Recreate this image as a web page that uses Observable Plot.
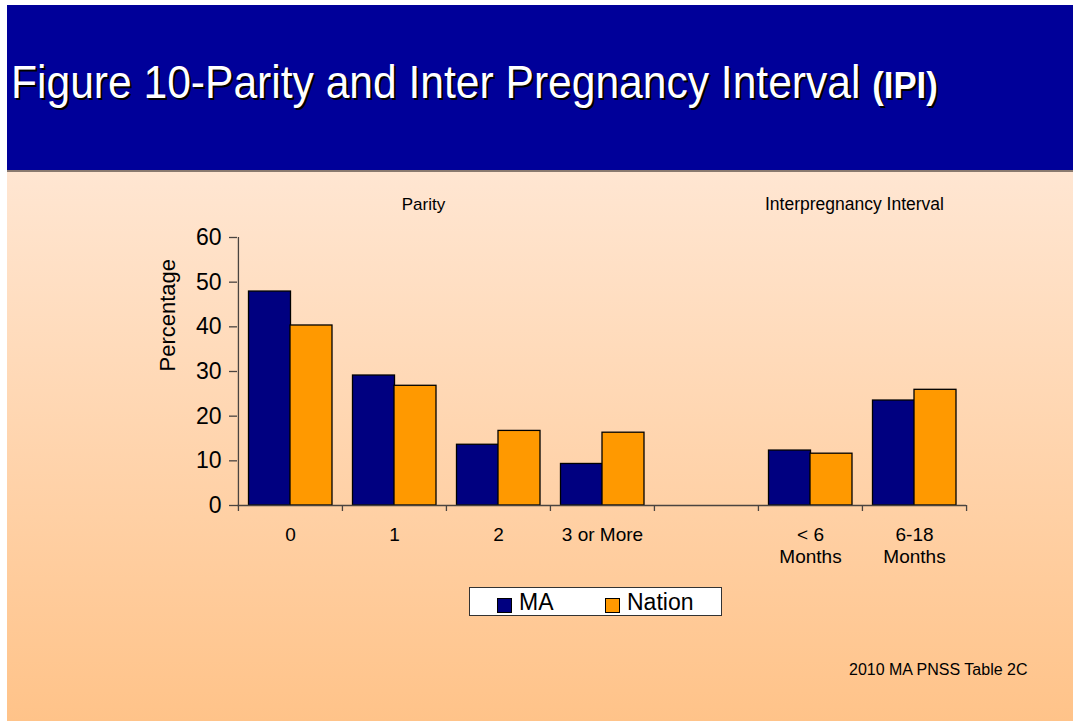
<!DOCTYPE html>
<html>
<head>
<meta charset="utf-8">
<script src="https://cdn.jsdelivr.net/npm/d3@7"></script>
<script src="https://cdn.jsdelivr.net/npm/@observablehq/plot@0.6"></script>
<style>
  html, body { margin: 0; padding: 0; background: #ffffff; }
  body { width: 1073px; height: 721px; position: relative; overflow: hidden; font-family: "Liberation Sans", Arial, sans-serif; }
  #slide { position: absolute; left: 7px; top: 5px; width: 1066px; height: 716px; }
  #band { position: absolute; left: 0; top: 0; width: 1066px; height: 165px; background: #000099; }
  #sep { position: absolute; left: 0; top: 165px; width: 1066px; height: 2px; background: #8a7a70; }
  #body { position: absolute; left: 0; top: 167px; width: 1066px; height: 549px; background: linear-gradient(#FFE6D2, #FFC389); }
  #title { position: absolute; left: 11px; top: 63px; font-size: 43px; line-height: 43px; color: #fff; white-space: nowrap; text-shadow: 2px 2px 0 #000; transform-origin: 0 100%; transform: scale(0.99, 1.08); }
  #title b { font-size: 35px; }
  #chart { position: absolute; left: 0; top: 0; }
  #legend { position: absolute; left: 469px; top: 587px; width: 251px; height: 27px; background: #fff; border: 1px solid #333; font-size: 23px; line-height: 29px; }
  .li { position: absolute; top: 0; }
  .sw { position: absolute; top: 10px; width: 13px; height: 13px; border: 1px solid #000; }
  #foot { position: absolute; left: 849px; top: 661px; font-size: 16px; color: #000; white-space: nowrap; }
</style>
</head>
<body>
<div id="slide">
  <div id="band"></div>
  <div id="sep"></div>
  <div id="body"></div>
</div>
<div id="title">Figure 10-Parity and Inter Pregnancy Interval <b>(IPI)</b></div>
<div id="chart"></div>
<div id="legend"></div>
<div id="foot">2010 MA PNSS Table 2C</div>
<script>
// ---- data ----
const categories = ["0", "1", "2", "3 or More", " ", "< 6\nMonths", "6-18\nMonths"];
const barCategories = ["0", "1", "2", "3 or More", "< 6\nMonths", "6-18\nMonths"];
const maValues = [47.9, 29.1, 13.6, 9.3, 12.3, 23.5];
const nationValues = [40.3, 26.8, 16.7, 16.3, 11.6, 25.9];
const seriesNames = ["MA", "Nation"];
const seriesColors = ["#000080", "#FF9900"];
const yTicks = [0, 10, 20, 30, 40, 50, 60];
const yLabel = "Percentage";
const groupLabels = ["Parity", "Interpregnancy Interval"];
const groupAnchors = ["1", "< 6\nMonths"];

const rows = [];
barCategories.forEach((c, i) => {
  rows.push({cat: c, series: "MA", value: maValues[i]});
  rows.push({cat: c, series: "Nation", value: nationValues[i]});
});

const W = 1073, H = 721;
const mL = 237, mR = 107, mT = 237, mB = 216;
const bw = (W - mL - mR) / categories.length;
const axisColor = "#4a4440";

const chart = Plot.plot({
  width: W, height: H,
  marginLeft: mL, marginRight: mR, marginTop: mT, marginBottom: mB,
  style: {background: "transparent", fontFamily: "'Liberation Sans', Arial, sans-serif", overflow: "visible"},
  x: {type: "band", domain: categories, padding: 0},
  y: {domain: [0, 60]},
  color: {domain: seriesNames, range: seriesColors},
  marks: [
    Plot.barY(rows.filter(d => d.series === "MA"), {x: "cat", y: "value", fill: "series", stroke: "#000", strokeWidth: 1.3, insetLeft: 10.5, insetRight: 51.5}),
    Plot.barY(rows.filter(d => d.series === "Nation"), {x: "cat", y: "value", fill: "series", stroke: "#000", strokeWidth: 1.3, insetLeft: 52, insetRight: 10}),
    Plot.ruleY([0], {stroke: axisColor, strokeWidth: 1.3}),
    Plot.ruleX([categories[0]], {x: d => d, dx: -bw / 2, y1: () => 0, y2: () => 60, stroke: axisColor, strokeWidth: 1.3}),
    Plot.ruleX(categories, {x: d => d, dx: -bw / 2, y1: () => 0, y2: () => 0, insetBottom: -6, stroke: axisColor, strokeWidth: 1.3}),
    Plot.ruleX([categories[categories.length - 1]], {x: d => d, dx: bw / 2, y1: () => 0, y2: () => 0, insetBottom: -6, stroke: axisColor, strokeWidth: 1.3}),
    Plot.axisY({ticks: yTicks, tickSize: 8, tickPadding: 8, fontSize: 23, label: null, stroke: axisColor, fill: "#000", strokeWidth: 1.3}),
    Plot.axisX({tickSize: 0, tickPadding: 20, fontSize: 19, lineHeight: 1.15, label: null, fill: "#000"}),
    Plot.text([yLabel], {frameAnchor: "left", dx: -70, rotate: -90, fontSize: 22, fill: "#000", text: d => d}),
    Plot.text([groupLabels[0]], {x: () => groupAnchors[0], dx: 29, frameAnchor: "top", dy: -40, fontSize: 17, fill: "#000", text: d => d}),
    Plot.text([groupLabels[1]], {x: () => groupAnchors[1], dx: 44, frameAnchor: "top", dy: -40, fontSize: 17.5, fill: "#000", text: d => d})
  ]
});
document.getElementById("chart").appendChild(chart);

// legend
const lg = document.getElementById("legend");
const legendPos = [{sw: 27, tx: 49}, {sw: 135, tx: 157}];
seriesNames.forEach((s, i) => {
  const sw = document.createElement("div");
  sw.className = "sw";
  sw.style.left = legendPos[i].sw + "px";
  sw.style.background = seriesColors[i];
  lg.appendChild(sw);
  const t = document.createElement("div");
  t.className = "li";
  t.style.left = legendPos[i].tx + "px";
  t.textContent = s;
  lg.appendChild(t);
});
</script>
</body>
</html>
